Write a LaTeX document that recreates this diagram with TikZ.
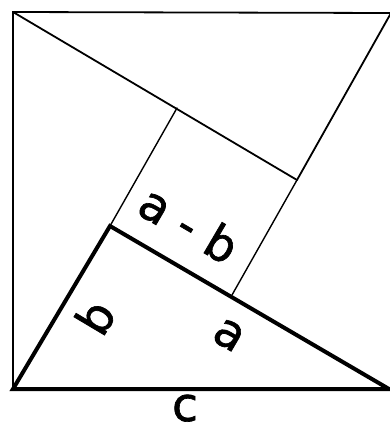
\documentclass[tikz,border=0pt]{standalone}
\usepackage{fontspec}
\setmainfont{DejaVu Sans}
\newfontfamily\lblfont[FakeBold=1.4]{DejaVu Sans}
\begin{document}
\begin{tikzpicture}[x=1pt,y=-1pt,
  thinline/.style={line width=1.4pt,line cap=round},
  edgeline/.style={line width=1.8pt,line cap=round},
  thickline/.style={line width=4pt,line cap=round,line join=miter},
  lbl/.style={font=\lblfont\fontsize{47}{47}\selectfont,inner sep=0pt,anchor=base}]
\useasboundingbox (0,0) rectangle (390,432);
% corners of the big square
\coordinate (A) at (13,389);
\coordinate (B) at (389,389);
\coordinate (C) at (391,13);
\coordinate (D) at (13,12);
\coordinate (Cx) at (392,13);
% inner square
\coordinate (P) at (110,226);
\coordinate (Q) at (177,108);
\coordinate (R) at (297,180);
\coordinate (S) at (232,295);
% outer edges
\draw[edgeline] (A) -- (D) -- (Cx);
% thin lines
\draw[edgeline] (D) -- (R);
\draw[edgeline] (C) -- (R);
\draw[thinline] (R) -- (S);
\draw[thinline] (P) -- (Q);
% thick triangle
\draw[thickline] (A) -- (P) -- (B) -- cycle;
% labels
\node[lbl,rotate=-30.4] (lab) at (180.4,239.2) {a\kern0.32em-\kern0.32em b};
\node[lbl,rotate=59.2] (lb) at (110,326) {b};
\node[lbl,rotate=-30.4] (la) at (222.4,346.2) {a};
\node[lbl] (lc) at (185,421) {c};
\end{tikzpicture}
\end{document}
